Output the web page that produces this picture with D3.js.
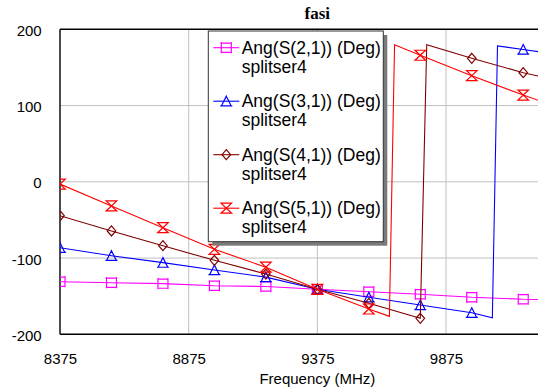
<!DOCTYPE html>
<html>
<head>
<meta charset="utf-8">
<script src="https://cdn.jsdelivr.net/npm/d3@7"></script>
<style>
  html, body { margin: 0; padding: 0; background: #fff; }
  svg { display: block; }
</style>
</head>
<body>
<svg id="chart" width="538" height="389"></svg>
<script>
// Phase of the four splitter outputs versus frequency (splitser4)
const title = "fasi";
const xLabel = "Frequency (MHz)";
const xGrid = [8875, 9375, 9875, 10375];
const xTickLabels = [8375, 8875, 9375, 9875];
const yTicks = [-200, -100, 0, 100, 200];
const markerFreqs = [8375, 8575, 8775, 8975, 9175, 9375, 9575, 9775, 9975, 10175, 10375];

const seriesNames = ["Ang(S(2,1)) (Deg)", "Ang(S(3,1)) (Deg)", "Ang(S(4,1)) (Deg)", "Ang(S(5,1)) (Deg)"];
const seriesSub = "splitser4";
const seriesColors = ["#ff00ff", "#0000ff", "#800000", "#ff0000"];
const seriesMarkers = ["square", "triangle", "diamond", "hourglass"];

// [frequency MHz, phase deg]
const s21 = [[8375, -131], [8575, -132.3], [8775, -133.6], [8975, -136.3], [9175, -137.4],
             [9375, -141], [9575, -144.1], [9775, -147.5], [9975, -151.5], [10175, -154], [10375, -155]];
const s31 = [[8375, -86.4], [8575, -96.9], [8775, -106], [8975, -115.7], [9175, -125],
             [9375, -141], [9575, -151.5], [9775, -161.6], [9975, -171.7], [10055, -178.5],
             [10075, 178.3], [10175, 173.5], [10375, 164]];
const s41 = [[8375, -44.5], [8575, -64.5], [8775, -83.8], [8975, -103], [9175, -121],
             [9375, -141], [9575, -159.4], [9775, -179], [9800, 179.8], [9975, 162],
             [10175, 143.1], [10375, 128]];
const s51 = [[8375, -3], [8575, -31.7], [8775, -60.2], [8975, -88.5], [9175, -112],
             [9375, -141], [9575, -166.8], [9655, -176.5], [9675, 179.8], [9775, 166],
             [9975, 139.2], [10175, 113.8], [10375, 90]];
const seriesData = [s21, s31, s41, s51];

const svg = d3.select("#chart");
const plotLeft = 60, plotTop = 29.3, plotBottom = 334.3, plotRight = 574.7;
const font = "'Liberation Sans', Arial, sans-serif";

const x = d3.scaleLinear().domain([8375, 10375]).range([plotLeft, plotRight]);
const y = d3.scaleLinear().domain([-200, 200]).range([plotBottom, plotTop]);

svg.append("defs").append("clipPath").attr("id", "plotClip")
  .append("rect").attr("x", plotLeft).attr("y", plotTop - 1)
  .attr("width", plotRight - plotLeft).attr("height", plotBottom - plotTop + 2);

// grid
const grid = svg.append("g").attr("stroke", "#c0c0c0").attr("stroke-width", 1);
xGrid.forEach(t => {
  grid.append("line").attr("x1", x(t)).attr("x2", x(t)).attr("y1", plotTop).attr("y2", plotBottom);
});
yTicks.slice(1, -1).forEach(t => {
  grid.append("line").attr("x1", plotLeft).attr("x2", plotRight).attr("y1", y(t)).attr("y2", y(t));
});

// axes (labels only; frame drawn separately)
const xAxis = svg.append("g").attr("transform", `translate(0,${plotBottom})`)
  .call(d3.axisBottom(x).tickValues(xTickLabels).tickSize(0).tickFormat(d => String(d)));
xAxis.select(".domain").remove();
xAxis.selectAll("text").attr("y", 29.7).attr("dy", 0)
  .attr("font-family", font).attr("font-size", 15).attr("fill", "#000");

const yAxis = svg.append("g").attr("transform", `translate(${plotLeft},0)`)
  .call(d3.axisLeft(y).tickValues(yTicks).tickSize(0).tickPadding(18.3).tickFormat(d => String(d)));
yAxis.select(".domain").remove();
yAxis.selectAll("text").attr("dy", "0.4em")
  .attr("font-family", font).attr("font-size", 15).attr("fill", "#000");

// frame
const frame = svg.append("g").attr("stroke", "#000").attr("stroke-width", 1.4).attr("fill", "none");
frame.append("line").attr("x1", plotLeft).attr("x2", plotRight).attr("y1", plotTop).attr("y2", plotTop);
frame.append("line").attr("x1", plotLeft).attr("x2", plotRight).attr("y1", plotBottom).attr("y2", plotBottom);
frame.append("line").attr("x1", plotLeft).attr("x2", plotLeft).attr("y1", plotTop).attr("y2", plotBottom);

// marker shapes
const markerPath = {
  square: "M-5,-5.6V5.6M5,-5.6V5.6M-5,-4.6H5M-5,4.6H5",
  triangle: "M0,-5L4.8,4.6H-4.8ZM-6,4.6H6",
  diamond: "M0,-5L4.3,0L0,5L-4.3,0Z",
  hourglass: "M-5.3,-5H5.3L-5.3,5H5.3Z"
};

const line = d3.line().x(d => x(d[0])).y(d => y(d[1]));
const plot = svg.append("g").attr("clip-path", "url(#plotClip)");

seriesData.forEach((data, i) => {
  const g = plot.append("g");
  g.append("path").datum(data).attr("d", line)
    .attr("fill", "none").attr("stroke", seriesColors[i]).attr("stroke-width", 1.1);
  g.selectAll("path.mk").data(data.filter(d => markerFreqs.includes(d[0])))
    .join("path").attr("class", "mk")
    .attr("transform", d => `translate(${x(d[0])},${y(d[1])})`)
    .attr("d", markerPath[seriesMarkers[i]])
    .attr("fill", "none").attr("stroke", seriesColors[i]).attr("stroke-width", 1.2);
});

// title and axis label
svg.append("text").attr("x", (plotLeft + plotRight) / 2).attr("y", 19).attr("text-anchor", "middle")
  .attr("font-family", "'Liberation Serif', 'Times New Roman', serif").attr("font-weight", "bold")
  .attr("font-size", 17).text(title);
svg.append("text").attr("x", (plotLeft + plotRight) / 2).attr("y", 384).attr("text-anchor", "middle")
  .attr("font-family", font).attr("font-size", 15).text(xLabel);

// legend
const lg = { x: 208.3, y: 31, w: 175, h: 210.7 };
const legend = svg.append("g");
legend.append("rect").attr("x", lg.x + 4).attr("y", lg.y + 4).attr("width", lg.w).attr("height", lg.h)
  .attr("fill", "#7a7a7a");
legend.append("rect").attr("x", lg.x).attr("y", lg.y).attr("width", lg.w).attr("height", lg.h)
  .attr("fill", "#fff").attr("stroke", "#333").attr("stroke-width", 1);

seriesNames.forEach((name, i) => {
  const cy = 47.7 + i * 53.5;
  const e = legend.append("g");
  e.append("line").attr("x1", 213.3).attr("x2", 239.3).attr("y1", cy).attr("y2", cy)
    .attr("stroke", seriesColors[i]).attr("stroke-width", 1.1);
  e.append("path").attr("transform", `translate(226.3,${cy})`).attr("d", markerPath[seriesMarkers[i]])
    .attr("fill", "none").attr("stroke", seriesColors[i]).attr("stroke-width", 1.2);
  const t = e.append("text").attr("font-family", font)
    .attr("font-size", 17.5).attr("fill", "#000");
  t.append("tspan").attr("x", 241.7).attr("y", cy + 6).text(name);
  t.append("tspan").attr("x", 241.7).attr("y", cy + 25).text(seriesSub);
});
</script>
</body>
</html>
